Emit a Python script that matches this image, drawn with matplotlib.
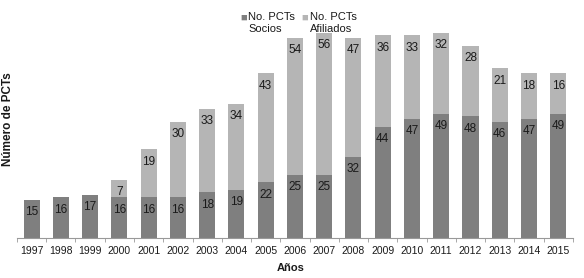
import matplotlib.pyplot as plt
import numpy as np

plt.rcParams['font.family'] = ['Liberation Sans', 'DejaVu Sans']

# data
years = [str(y) for y in range(1997, 2016)]
socios = [15, 16, 17, 16, 16, 16, 18, 19, 22, 25, 25, 32, 44, 47, 49, 48, 46, 47, 49]
afiliados = [0, 0, 0, 7, 19, 30, 33, 34, 43, 54, 56, 47, 36, 33, 32, 28, 21, 18, 16]

dark = '#7f7f7f'
light = '#b5b5b5'
txt = '#1a1a1a'

fig = plt.figure(figsize=(5.84, 2.78), dpi=100)
ax = fig.add_axes([0.029, 0.144, 0.952, 0.856])

x = np.arange(len(years))
w = 0.55
ax.bar(x, socios, width=w, color=dark)
ax.bar(x, afiliados, width=w, bottom=socios, color=light)

# value labels just inside the top of each segment
for i in range(len(years)):
    ax.annotate(str(socios[i]), (x[i], socios[i]), xytext=(0, -9),
                textcoords='offset points', ha='center', va='center',
                fontsize=8.5, color=txt)
    if afiliados[i] > 0:
        top = socios[i] + afiliados[i]
        ax.annotate(str(afiliados[i]), (x[i], top), xytext=(0, -9),
                    textcoords='offset points', ha='center', va='center',
                    fontsize=8.5, color=txt)

ax.set_xlim(-0.5, len(years) - 0.5)
ax.set_ylim(0, 94)
ax.set_xticks(x)
ax.set_xticklabels(years, fontsize=7.5, color=txt)
ax.set_xticks(np.arange(-0.5, len(years)), minor=True)
ax.tick_params(axis='x', which='major', length=0, pad=6)
ax.tick_params(axis='x', which='minor', length=3, color='#999999')
ax.set_yticks([])
for s in ['top', 'right', 'left']:
    ax.spines[s].set_visible(False)
ax.spines['bottom'].set_color('#999999')

fig.text(0.497, 0.025, 'Años', fontsize=8, fontweight='bold', ha='center', color=txt)
fig.text(0.014, 0.57, 'Número de PCTs', fontsize=8.5, fontweight='bold', rotation=90,
         ha='center', va='center', color=txt)

# legend drawn by hand so the marker sits on the first line
fig.text(0.411, 0.935, '■', fontsize=8, color=dark, va='center')
fig.text(0.425, 0.958, 'No. PCTs\nSocios', fontsize=8, color=txt, va='top', linespacing=1.3)
fig.text(0.516, 0.935, '■', fontsize=8, color=light, va='center')
fig.text(0.530, 0.958, 'No. PCTs\nAfiliados', fontsize=8, color=txt, va='top', linespacing=1.3)

fig.savefig('out.png', dpi=100)
